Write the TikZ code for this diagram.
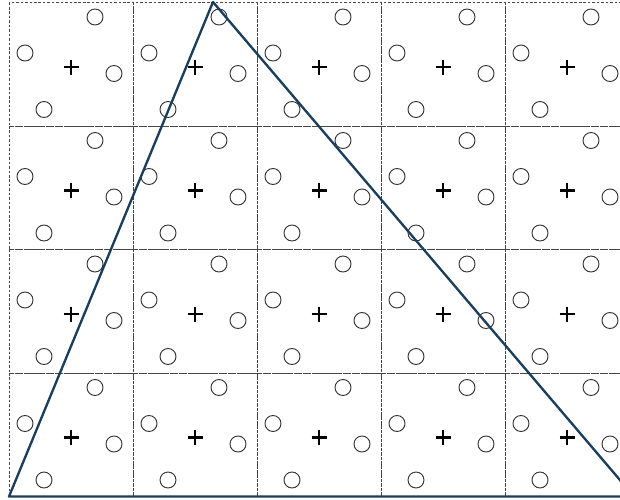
\documentclass[tikz,border=0pt]{standalone}
\usepackage{xcolor}
\usepackage{tikz}
\usetikzlibrary{calc}
\definecolor{tri}{RGB}{26,62,92}
\definecolor{cellgray}{RGB}{70,70,70}
\tikzset{
  cell/.style={draw=cellgray, dash pattern=on 2.2pt off 1.6pt, line width=0.75pt},
  sample/.style={circle, draw=black!80, line width=0.8pt, minimum size=0.48cm, inner sep=0pt},
  centre/.style={draw=black, line width=2pt},
  region/.style={draw=tri, line width=2pt, line join=round},
}

\begin{document}
\begin{tikzpicture}[x=0.03cm, y=-0.03cm]
\useasboundingbox (0,0) rectangle (620,499);
% grid of cells, each with its samples and centre
\foreach \i in {0,...,4} {
  \foreach \j in {0,...,3} {
    \coordinate (c\i\j) at ({9+124*\i},{2.5+123.5*\j});
    \draw[cell] (c\i\j) rectangle ++(124,123.5);
    \node[sample] (s\i\j a) at ($(c\i\j)+(86,14.5)$) {};
    \node[sample] (s\i\j b) at ($(c\i\j)+(16,50.5)$) {};
    \node[sample] (s\i\j c) at ($(c\i\j)+(105,71)$) {};
    \node[sample] (s\i\j d) at ($(c\i\j)+(35,107)$) {};
    \coordinate (m\i\j) at ($(c\i\j)+(62,64.5)$);
    \draw[centre] ($(m\i\j)+(-7.5,0)$) -- ($(m\i\j)+(7.5,0)$);
    \draw[centre] ($(m\i\j)+(0,-7.5)$) -- ($(m\i\j)+(0,7.5)$);
  }
}
% triangle
\coordinate (A) at (9,496.5);
\coordinate (B) at (213,2);
\coordinate (C) at (634,496.5);
\draw[region] (A) -- (B) -- (C) -- cycle;
\end{tikzpicture}
\end{document}
